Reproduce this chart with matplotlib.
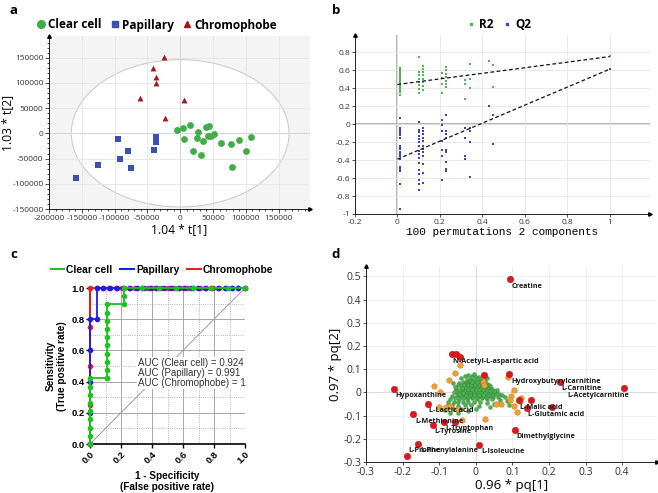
import matplotlib
matplotlib.use("Agg")
import matplotlib.pyplot as plt
from matplotlib.patches import Ellipse
from matplotlib.lines import Line2D
from matplotlib.ticker import FuncFormatter, AutoMinorLocator, MultipleLocator

plt.rcParams['axes.unicode_minus'] = False
plt.rcParams['font.family'] = ['Open Sans', 'DejaVu Sans']

# ---- panel a: PCA scores ----
clear_t1 = [-5000, 4000, 15000, 6600, 27800, 25300, 34300, 39400, 43400, 42400,
            47500, 51000, 20200, 32300, 62600, 77800, 89400, 108600, 101000, 79800]
clear_t2 = [7200, 9900, 17100, -11800, 2600, -9900, -15800, 13200, 15100, -4600,
            -5900, -2000, -35500, -42100, -19100, -20400, -13200, -7200, -34200, -67100]
pap_t1 = [-95000, -36400, -37400, -40400, -79300, -92400, -75300, -124700, -159100]
pap_t2 = [-11200, -6600, -17800, -32200, -34900, -50700, -67800, -61800, -89500]
chromo_t1 = [-24200, -41900, -37400, -36400, -61600, 6600, -23200]
chromo_t2 = [151300, 129000, 112500, 100000, 71000, 66400, 29600]

# ---- panel b: permutation test ----
r2_x = [0.01] * 16 + [0.10] * 8 + [0.12] * 8 + [0.21] * 4 + [0.23] * 7 + \
       [0.32] * 3 + [0.34] * 3 + [0.43, 0.45, 0.45, 1.0]
r2_y = [0.32, 0.36, 0.38, 0.40, 0.42, 0.44, 0.46, 0.48, 0.50, 0.52, 0.54, 0.56, 0.58, 0.60, 0.62, 0.45,
        0.74, 0.58, 0.55, 0.50, 0.47, 0.43, 0.39, 0.34,
        0.65, 0.61, 0.58, 0.54, 0.50, 0.47, 0.42, 0.38,
        0.57, 0.51, 0.44, 0.35,
        0.63, 0.60, 0.56, 0.52, 0.48, 0.45, 0.41,
        0.49, 0.44, 0.28,
        0.67, 0.50, 0.40,
        0.70, 0.66, 0.41, 0.76]
q2_x = [0.01] * 19 + [0.10] * 16 + [0.12] * 12 + [0.21] * 7 + [0.23] * 9 + \
       [0.32] * 4 + [0.34] * 4 + [0.43, 0.45, 0.45, 1.0]
q2_y = [0.07, -0.04, -0.06, -0.08, -0.10, -0.12, -0.15, -0.24, -0.26, -0.28, -0.31, -0.33, -0.35,
        -0.39, -0.48, -0.50, -0.52, -0.67, -0.94,
        0.02, -0.07, -0.09, -0.13, -0.17, -0.20, -0.24, -0.30, -0.33, -0.38, -0.43, -0.51,
        -0.56, -0.62, -0.67, -0.73,
        -0.04, -0.08, -0.11, -0.15, -0.19, -0.24, -0.28, -0.31, -0.35, -0.44, -0.54, -0.65,
        0.04, -0.01, -0.08, -0.19, -0.29, -0.36, -0.62,
        0.10, -0.08, -0.11, -0.15, -0.29, -0.31, -0.42, -0.50, -0.52,
        -0.04, -0.16, -0.35, -0.39,
        -0.04, -0.08, -0.20, -0.59,
        0.20, 0.10, -0.22, 0.61]
r2_line = ([0, 1.0], [0.44, 0.75])
q2_line = ([0, 1.0], [-0.39, 0.61])

# ---- panel c: ROC curves ----
chromo_fpr = [0, 0, 0, 0, 0, 0.042, 0.083, 0.125, 0.167, 0.208, 0.25, 0.292, 0.333, 0.375, 0.417,
              0.458, 0.5, 0.542, 0.583, 0.625, 0.667, 0.708, 0.75, 0.792, 0.833, 0.875, 0.917,
              0.958, 1.0]
chromo_tpr = [0, 0.25, 0.5, 0.75] + [1.0] * 25
pap_fpr = [0, 0, 0, 0, 0, 0.043, 0.043, 0.087, 0.130, 0.174, 0.217, 0.261, 0.304, 0.348, 0.391,
           0.435, 0.478, 0.522, 0.565, 0.609, 0.652, 0.696, 0.739, 0.783, 0.826, 0.870, 0.913,
           0.957, 1.0]
pap_tpr = [0, 0.2, 0.4, 0.6, 0.8, 0.8] + [1.0] * 23
clear_fpr = [0] * 9 + [0.111] * 11 + [0.222] * 3 + [0.333, 0.444, 0.556, 0.667, 0.778, 0.889, 1.0]
clear_tpr = [0, 0.053, 0.105, 0.158, 0.211, 0.263, 0.316, 0.368, 0.421,
             0.421, 0.421, 0.474, 0.526, 0.579, 0.632, 0.684, 0.737, 0.789, 0.842, 0.895,
             0.895, 0.947, 1.0] + [1.0] * 7
auc_text = "AUC (Clear cell) = 0.924\nAUC (Papillary) = 0.991\nAUC (Chromophobe) = 1"

# ---- panel d: loadings ----
red_x = [0.094, -0.066, -0.054, -0.043, 0.022, 0.090, 0.229, 0.406, -0.223, -0.131, -0.171,
         -0.118, -0.087, -0.057, 0.117, 0.152, 0.140, 0.208, 0.106, 0.009, -0.159, -0.188]
red_y = [0.487, 0.165, 0.165, 0.153, 0.075, 0.079, 0.046, 0.017, 0.014, -0.052, -0.095,
         -0.139, -0.126, -0.129, -0.032, -0.033, -0.067, -0.062, -0.161, -0.225, -0.221, -0.274]
orange_x = [-0.044, -0.057, -0.072, -0.113, -0.099, 0.019, 0.023, 0.088, 0.105, 0.096, 0.093,
            0.123, 0.120, 0.105, 0.112, 0.070, 0.055, -0.100, -0.082, -0.071, -0.038, 0.026, -0.050]
orange_y = [0.118, 0.083, 0.053, 0.027, 0.000, 0.043, 0.032, 0.065, 0.010, -0.017, -0.034,
            -0.026, -0.036, -0.059, -0.086, -0.050, -0.052, -0.062, -0.065, -0.060, -0.118, -0.116, -0.072]
green_x = [-0.040, -0.030, -0.020, -0.010, 0.000, -0.005, -0.025, -0.015, -0.005, 0.005, 0.015,
           -0.035, -0.045, -0.028, -0.018, -0.008, 0.002, 0.012, 0.022, 0.030,
           -0.050, -0.040, -0.030, -0.020, -0.010, 0.000, 0.010, 0.020, 0.030, 0.040,
           -0.055, -0.045, -0.035, -0.025, -0.015, -0.005, 0.005, 0.015, 0.025, 0.035, 0.045, 0.055,
           -0.060, -0.048, -0.038, -0.028, -0.018, -0.008, 0.002, 0.012, 0.022, 0.032, 0.042, 0.052,
           0.062, 0.072,
           -0.065, -0.052, -0.042, -0.032, -0.022, -0.012, -0.002, 0.008, 0.018, 0.028, 0.038, 0.048,
           0.060, 0.080,
           -0.070, -0.058, -0.046, -0.034, -0.024, -0.010, 0.004, 0.016, 0.030, 0.045, 0.065, 0.085,
           -0.075, -0.060, -0.048, -0.036, -0.020, -0.004, 0.012, 0.030, 0.050, 0.070,
           -0.080, -0.065, -0.050, -0.030, -0.012, 0.010, 0.040, 0.090,
           -0.085, -0.060, -0.040, -0.020, 0.000, -0.070, -0.050,
           -0.025, -0.015, -0.005, 0.005, 0.015, -0.020, -0.010, 0.000, 0.010, 0.020,
           -0.015, -0.005, 0.005, 0.015, 0.025, -0.020, -0.008, 0.004, 0.016, 0.028,
           -0.033, -0.023, 0.007, 0.017, 0.035, -0.012, 0.008, 0.025, 0.045, -0.045,
           0.058, -0.058, 0.010, 0.030, -0.062,
           -0.032, -0.022, -0.012, -0.002, 0.008, 0.018, 0.028, 0.038,
           -0.037, -0.027, -0.017, -0.007, 0.003, 0.013, 0.023, 0.033, 0.043,
           -0.030, -0.020, -0.010, 0.000, 0.010, 0.020, 0.030, 0.040, 0.050,
           -0.035, -0.025, -0.015, -0.005, 0.005, 0.015, 0.025, 0.035,
           -0.028, -0.016, -0.004, 0.008, 0.020, 0.032, -0.010, 0.004, 0.018]
green_y = [0.060, 0.070, 0.075, 0.072, 0.068, 0.078, 0.055, 0.058, 0.055, 0.050, 0.055,
           0.045, 0.040, 0.040, 0.042, 0.040, 0.038, 0.040, 0.042, 0.035,
           0.030, 0.028, 0.025, 0.028, 0.026, 0.025, 0.027, 0.025, 0.022, 0.020,
           0.015, 0.012, 0.014, 0.012, 0.015, 0.012, 0.014, 0.012, 0.010, 0.008, 0.006, 0.004,
           0.000, -0.002, 0.002, -0.001, 0.001, -0.002, 0.000, -0.001, 0.001, -0.003, -0.004, -0.006,
           -0.008, -0.010,
           -0.015, -0.012, -0.014, -0.012, -0.015, -0.013, -0.012, -0.014, -0.012, -0.015, -0.016, -0.018,
           -0.020, -0.018,
           -0.028, -0.025, -0.027, -0.026, -0.028, -0.026, -0.027, -0.025, -0.028, -0.030, -0.032, -0.035,
           -0.042, -0.040, -0.042, -0.040, -0.042, -0.040, -0.042, -0.045, -0.048, -0.050,
           -0.058, -0.055, -0.058, -0.056, -0.055, -0.060, -0.062, -0.055,
           -0.075, -0.072, -0.070, -0.078, -0.072, -0.090, -0.088,
           0.020, 0.020, 0.020, 0.020, 0.018, 0.006, 0.006, 0.006, 0.005, 0.004,
           -0.006, -0.006, -0.007, -0.006, -0.008, -0.020, -0.019, -0.020, -0.019, -0.021,
           0.033, 0.035, 0.032, 0.033, 0.030, 0.048, 0.045, 0.050, -0.010, -0.005,
           0.012, 0.022, 0.065, 0.060, 0.040,
           0.030, 0.031, 0.030, 0.032, 0.031, 0.030, 0.028, 0.027,
           0.019, 0.018, 0.017, 0.016, 0.017, 0.018, 0.016, 0.015, 0.014,
           0.008, 0.009, 0.010, 0.011, 0.010, 0.009, 0.008, 0.007, 0.006,
           -0.001, -0.002, -0.003, -0.003, -0.002, -0.003, -0.004, -0.005,
           -0.010, -0.010, -0.011, -0.010, -0.011, -0.012, 0.045, 0.046, 0.047]
metab_names = ["Creatine", "N-Acetyl-L-aspartic acid", "Hydroxybutyrylcarnitine", "L-Carnitine",
               "L-Acetylcarnitine", "Hypoxanthine", "L-Lactic acid", "L-Malic acid",
               "L-Glutamic acid", "L-Methionine", "L-Tryptophan", "L-Tyrosine", "Dimethylglycine",
               "L-Isoleucine", "L-Proline", "L-Phenylalanine"]
metab_x = [0.097, -0.061, 0.096, 0.233, 0.249, -0.219, -0.127, 0.120, 0.143, -0.164, -0.083,
           -0.113, 0.110, 0.014, -0.184, -0.151]
metab_y = [0.457, 0.133, 0.047, 0.016, -0.014, -0.014, -0.080, -0.065, -0.096, -0.125, -0.156,
           -0.169, -0.192, -0.255, -0.249, -0.249]

W, H = 658, 493
fig = plt.figure(figsize=(W / 100, H / 100), dpi=100)


def rect(l, t, r, b):
    return [l / W, 1 - b / H, (r - l) / W, (b - t) / H]


def arrows(ax):
    ax.plot([1], [0], marker='>', ms=2.5, color='k', transform=ax.transAxes, clip_on=False)
    ax.plot([0], [1], marker='^', ms=2.5, color='k', transform=ax.transAxes, clip_on=False)


gfmt = FuncFormatter(lambda v, p: '%g' % round(v, 6))

# ================= a =================
ax = fig.add_axes(rect(49, 36, 310, 209))
ax.set_facecolor('#f4f4f4')
ax.add_patch(Ellipse((0, 0), 2 * 166000, 2 * 146000, facecolor='white', edgecolor='#c8c8c8',
                     lw=0.7, zorder=0.5))
ax.set_xlim(-200000, 198000)
ax.set_ylim(-150000, 193000)
ax.set_xticks(range(-200000, 150001, 50000))
ax.set_yticks(range(-150000, 150001, 50000))
ax.xaxis.set_minor_locator(AutoMinorLocator(5))
ax.yaxis.set_minor_locator(AutoMinorLocator(5))
ax.grid(True, color='#e4e4e4', lw=0.6, zorder=0.8)
ax.axhline(0, color='#888888', lw=0.7, zorder=1)
ax.axvline(0, color='#888888', lw=0.7, zorder=1)
ax.scatter(clear_t1, clear_t2, s=24, color='#3fae49', zorder=3, lw=0)
ax.scatter(pap_t1, pap_t2, s=20, marker='s', color='#3c4fb4', zorder=3, lw=0)
ax.scatter(chromo_t1, chromo_t2, s=18, marker='^', color='#a3181c', zorder=3, lw=0)
for s in ['top', 'right']:
    ax.spines[s].set_visible(False)
for s in ['left', 'bottom']:
    ax.spines[s].set_linewidth(0.6)
ax.tick_params(labelsize=6, colors='#333333', length=3, width=0.6, pad=1)
ax.tick_params(which='minor', length=1.5, width=0.5)
ax.set_xlabel('1.04 * t[1]', fontsize=8.7, labelpad=1)
ax.set_ylabel('1.03 * t[2]', fontsize=8.7)
ax.yaxis.set_label_coords((14 - 49) / 261, 0.5)
arrows(ax)
h = [Line2D([], [], ls='', marker='o', ms=5.5, color='#3fae49'),
     Line2D([], [], ls='', marker='s', ms=5, color='#3c4fb4'),
     Line2D([], [], ls='', marker='^', ms=4.5, color='#a3181c')]
fig.legend(h, ['Clear cell', 'Papillary', 'Chromophobe'], loc='center',
           bbox_to_anchor=(156 / W, 1 - 25 / H), ncol=3, frameon=False, handletextpad=0.1,
           columnspacing=0.6, handlelength=1.0, prop={'weight': 'bold', 'size': 8.5})

# ================= b =================
ax = fig.add_axes(rect(355, 35, 650, 214))
ax.set_xlim(-0.2, 1.19)
ax.set_ylim(-1, 0.99)
ax.set_xticks([-0.2, 0, 0.2, 0.4, 0.6, 0.8, 1.0])
ax.set_yticks([-1, -0.8, -0.6, -0.4, -0.2, 0, 0.2, 0.4, 0.6, 0.8])
ax.xaxis.set_major_formatter(gfmt)
ax.yaxis.set_major_formatter(gfmt)
ax.grid(True, color='#e6e6e6', lw=0.6, zorder=0)
ax.axhline(0, color='#a8a8a8', lw=1.2, zorder=1)
ax.axvline(0, color='#a8a8a8', lw=1.2, zorder=1)
ax.scatter(r2_x, r2_y, s=3.5, marker='s', color='#52b352', lw=0, zorder=3)
ax.scatter(q2_x, q2_y, s=3.5, marker='s', color='#3b44b8', lw=0, zorder=3)
ax.plot(*r2_line, ls='--', color='#111111', lw=0.9, zorder=4, dashes=(3, 2))
ax.plot(*q2_line, ls='--', color='#111111', lw=0.9, zorder=4, dashes=(3, 2))
for s in ['top', 'right']:
    ax.spines[s].set_visible(False)
for s in ['left', 'bottom']:
    ax.spines[s].set_linewidth(0.6)
ax.tick_params(labelsize=6, colors='#333333', length=2.5, width=0.6, pad=1)
ax.set_xlabel('100 permutations 2 components', fontsize=8, family='Liberation Mono', labelpad=1)
arrows(ax)
h = [Line2D([], [], ls='', marker='s', ms=2, color='#52b352'),
     Line2D([], [], ls='', marker='s', ms=2, color='#3b44b8')]
fig.legend(h, ['R2', 'Q2'], loc='center', bbox_to_anchor=(498 / W, 1 - 25 / H), ncol=2,
           frameon=False, handletextpad=0.2, columnspacing=0.6, handlelength=1.0,
           prop={'weight': 'bold', 'size': 8.5})

# ================= c =================
ax = fig.add_axes(rect(90, 288, 245, 444))
ax.set_xlim(0, 1)
ax.set_ylim(0, 1)
ax.set_xticks([0, 0.2, 0.4, 0.6, 0.8, 1.0])
ax.set_yticks([0, 0.2, 0.4, 0.6, 0.8, 1.0])
ax.xaxis.set_minor_locator(MultipleLocator(0.1))
ax.yaxis.set_minor_locator(MultipleLocator(0.1))
ax.xaxis.set_major_formatter(FuncFormatter(lambda v, p: '%.1f' % v))
ax.yaxis.set_major_formatter(FuncFormatter(lambda v, p: '%.1f' % v))
ax.grid(True, which='major', color='#9a9a9a', lw=0.6, zorder=0)
ax.grid(True, which='minor', color='#9a9a9a', lw=0.6, ls=':', zorder=0)
ax.plot([0, 1], [0, 1], color='#9a9a9a', lw=0.7, zorder=1)
ax.plot(chromo_fpr, chromo_tpr, color='#ee1c1c', lw=1.3, marker='o', ms=3, clip_on=False, zorder=3)
ax.plot(pap_fpr, pap_tpr, color='#1c1cee', lw=1.3, marker='o', ms=3, clip_on=False, zorder=4)
ax.plot(clear_fpr, clear_tpr, color='#1ec31e', lw=1.3, marker='o', ms=3, clip_on=False, zorder=5)
ax.text(0.31, 0.455, auc_text, fontsize=7, family='Liberation Sans', color='#333333',
        linespacing=1.05, va='center', ha='left', zorder=6,
        bbox=dict(facecolor='white', edgecolor='none', pad=0.8))
for s in ['top', 'right']:
    ax.spines[s].set_visible(False)
for s in ['left', 'bottom']:
    ax.spines[s].set_linewidth(1.2)
ax.tick_params(which='major', length=3, width=1.0, pad=1)
ax.tick_params(which='minor', length=0)
for lab in ax.get_xticklabels() + ax.get_yticklabels():
    lab.set_family('Liberation Sans')
    lab.set_weight('bold')
    lab.set_fontsize(6.8)
for lab in ax.get_xticklabels():
    lab.set_rotation(45)
    lab.set_ha('right')
    lab.set_va('top')
    lab.set_rotation_mode('anchor')
ax.set_xlabel('1 - Specificity\n(False positive rate)', fontsize=7.2, weight='bold',
              family='Liberation Sans', labelpad=4)
ax.set_ylabel('Sensitivity\n(True positive rate)', fontsize=7.2, weight='bold',
              family='Liberation Sans', labelpad=3)
h = [Line2D([], [], color='#1ec31e', lw=1.5), Line2D([], [], color='#1c1cee', lw=1.5),
     Line2D([], [], color='#ee1c1c', lw=1.5)]
fig.legend(h, ['Clear cell', 'Papillary', 'Chromophobe'], loc='center',
           bbox_to_anchor=(162 / W, 1 - 270 / H), ncol=3, frameon=False, handletextpad=0.2,
           columnspacing=0.8, handlelength=1.3,
           prop={'weight': 'bold', 'size': 7.4, 'family': 'Liberation Sans'})

# ================= d =================
ax = fig.add_axes(rect(366, 266, 657, 462))
ax.set_xlim(-0.3, 0.495)
ax.set_ylim(-0.3, 0.545)
ax.set_xticks([-0.3, -0.2, -0.1, 0, 0.1, 0.2, 0.3, 0.4])
ax.set_yticks([-0.3, -0.2, -0.1, 0, 0.1, 0.2, 0.3, 0.4, 0.5])
ax.xaxis.set_major_formatter(gfmt)
ax.yaxis.set_major_formatter(gfmt)
ax.grid(True, color='#ececec', lw=0.6, zorder=0)
ax.axhline(0, color='#888888', lw=0.7, zorder=1)
ax.axvline(0, color='#888888', lw=0.7, zorder=1)
ax.scatter(green_x, green_y, s=8, color='#4caf50', edgecolor='#2e7d32', lw=0.25, zorder=3)
ax.scatter(orange_x, orange_y, s=16, color='#f0a030', edgecolor='#b8741a', lw=0.3, zorder=4)
ax.scatter(red_x, red_y, s=22, color='#e0161b', edgecolor='#9c1014', lw=0.3, zorder=5)
for name, x, y in zip(metab_names, metab_x, metab_y):
    ax.text(x, y, name, fontsize=5.2, weight='bold', color='#1a1a1a', ha='left', va='center',
            zorder=6)
for s in ['top', 'right']:
    ax.spines[s].set_visible(False)
for s in ['left', 'bottom']:
    ax.spines[s].set_linewidth(0.6)
ax.tick_params(labelsize=7.5, colors='#333333', length=2.5, width=0.6, pad=1)
ax.set_xlabel('0.96 * pq[1]', fontsize=9.5, labelpad=1)
ax.set_ylabel('0.97 * pq[2]', fontsize=9.5, labelpad=1)
arrows(ax)

# panel letters
for letter, x, y in [('a', 10, 10), ('b', 332, 10), ('c', 10, 254), ('d', 331, 254)]:
    fig.text(x / W, 1 - y / H, letter, fontsize=9.5, weight='bold', va='center', ha='left')

fig.savefig('out.png', dpi=100)
